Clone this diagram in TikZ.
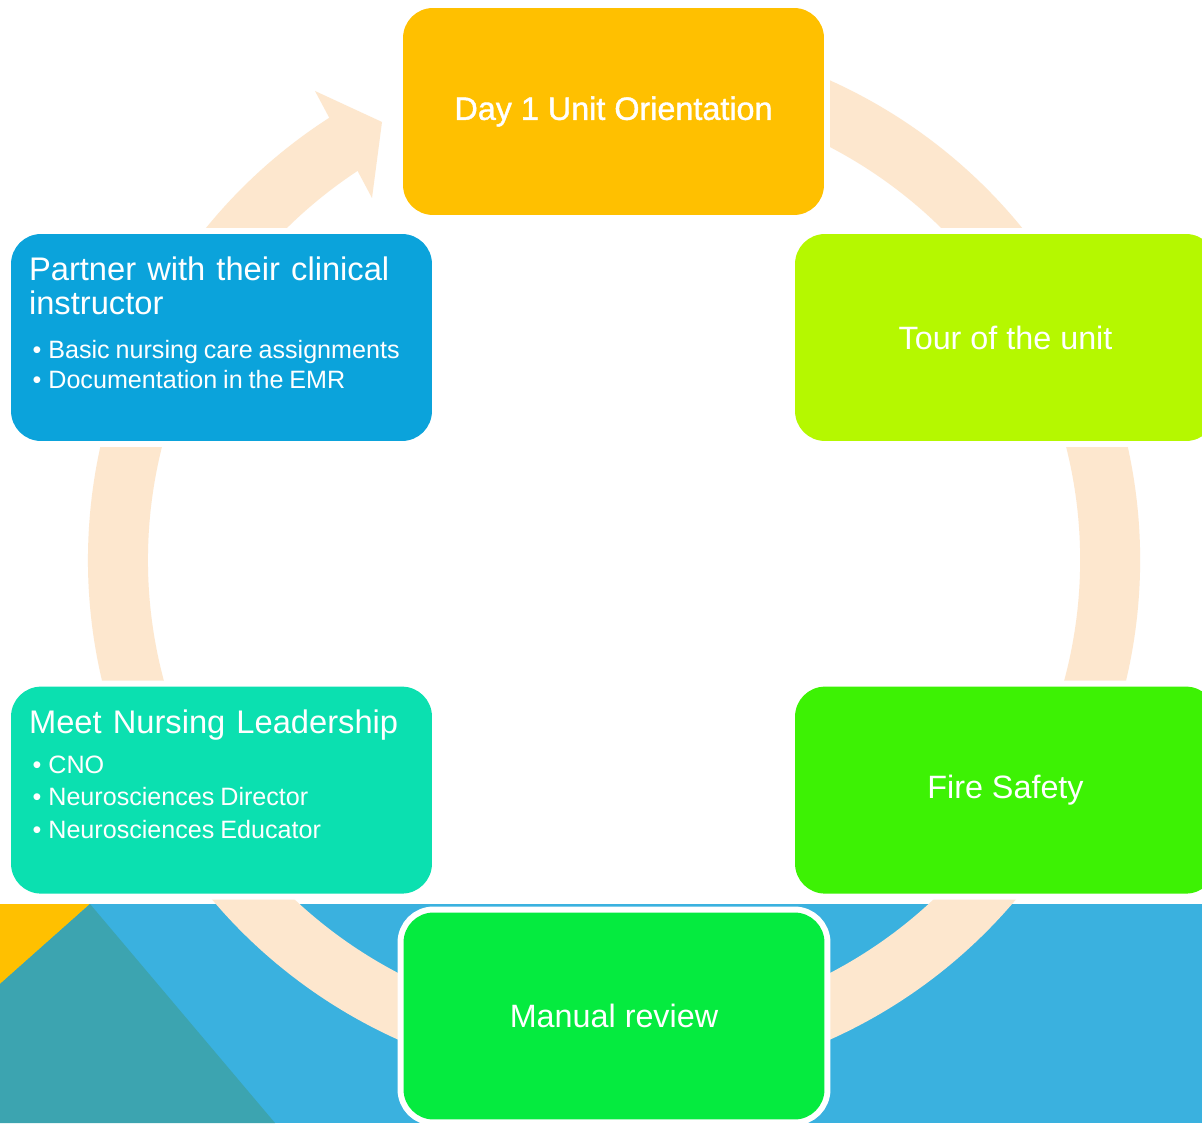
\documentclass[tikz,border=0pt]{standalone}
\usepackage{fontspec}
\setmainfont{Liberation Sans}
\newfontfamily\medfont[FakeBold=1.2]{Liberation Sans}
\usepackage{tikz}
\usetikzlibrary{positioning}

\definecolor{daygold}{HTML}{FFC000}
\definecolor{tourlime}{HTML}{B5F800}
\definecolor{firegreen}{HTML}{3DF204}
\definecolor{manualgreen}{HTML}{05EB3F}
\definecolor{meetteal}{HTML}{0BE0B0}
\definecolor{partnerblue}{HTML}{0BA3DB}
\definecolor{ringpeach}{HTML}{FDE7CE}
\definecolor{bandblue}{HTML}{3AB1DF}
\definecolor{bandteal}{HTML}{3CA4B0}

% heading and bullet lines in the side boxes
\newcommand{\headsize}{\fontsize{18.6}{19.4}\selectfont\spaceskip=0.34em plus 0.1em\relax}
\newcommand{\bitem}[1]{\hspace*{2pt}\textbullet\hspace{4pt}#1}

\begin{document}
\begin{tikzpicture}[x=0.02cm, y=0.02cm, node distance=4.9cm,
    box/.style={rounded corners=0.6cm, minimum width=8.42cm, minimum height=4.14cm, inner sep=0pt,
    text=white, font=\fontsize{18.4}{22}\selectfont, preaction={draw=white, line width=0.24cm}},
    listtext/.style={anchor=north west, inner sep=0pt, text=white, text width=8cm, align=left},
    ring/.style={draw=ringpeach, line width=1.2cm}]
    \fill[white] (0,0) rectangle (1202,1123);
    \clip (0,0) rectangle (1202,1123);
    % strip along the bottom
    \fill[bandblue] (0,0) rectangle (1202,219);
    \fill[daygold] (0,219) -- (90,219) -- (0,139) -- cycle;
    \fill[bandteal] (90,219) -- (275,0) -- (0,0) -- (0,139) -- cycle;
    % cycle ring and its head
    \coordinate (ctr) at (614,563);
    \draw[ring] ([shift={(110:496)}]ctr) arc[start angle=110, end angle=-238.5, radius=496];
    \fill[ringpeach] (315,1032) -- (382,1001) -- (372,925) -- cycle;
    % steps
    \node[box, fill=daygold, font=\medfont\fontsize{18.4}{22}\selectfont] (day) at (613.5,1011.5) {Day 1 Unit Orientation};
    \node[box, fill=tourlime] (tour) at (1005.5,785.5) {Tour of the unit};
    \node[box, fill=firegreen, below=of tour] (fire) {Fire Safety};
    \node[box, fill=manualgreen] (manual) at (614,107) {Manual review};
    \node[box, fill=partnerblue] (partner) at (221.5,785.5) {};
    \node[box, fill=meetteal, below=of partner] (meet) {};
    \node[listtext] (partnertxt) at ([shift={(18,-23)}]partner.north west) {%
      {\headsize Partner with their clinical\\instructor\par}
      \vspace{7.9pt}
      {\fontsize{14.3}{17.1}\selectfont \bitem{Basic nursing care assignments}\\\bitem{Documentation in the EMR}\par}};
    \node[listtext] (meettxt) at ([shift={(18,-23)}]meet.north west) {%
      {\headsize Meet Nursing Leadership\par}
      \vspace{4.3pt}
      {\fontsize{14.3}{18.5}\selectfont \bitem{CNO}\\\bitem{Neurosciences Director}\\\bitem{Neurosciences Educator}\par}};
  \end{tikzpicture}
\end{document}
